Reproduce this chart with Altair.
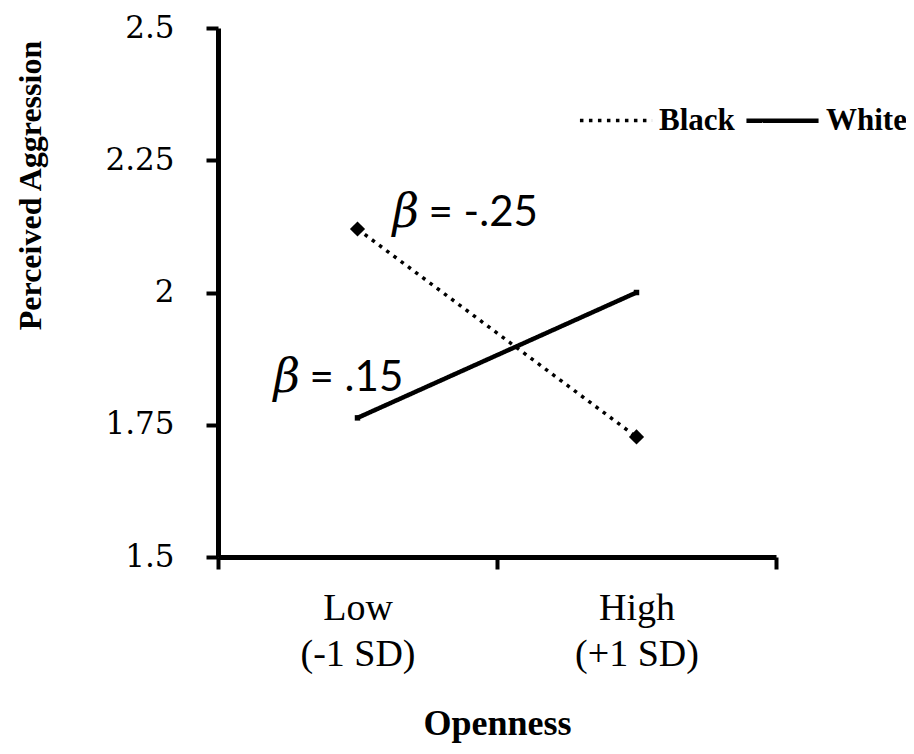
import altair as alt
import pandas as pd

categories = ["Low|(-1 SD)", "High|(+1 SD)"]
groups = ["Black", "White"]
black_values = [2.12, 1.727]
white_values = [1.763, 2.0]
y_ticks = [1.5, 1.75, 2.0, 2.25, 2.5]

ann_text = ["= -.25", "= .15"]
ann_y = [2.15, 1.838]

rows = []
for g, vals in zip(groups, [black_values, white_values]):
    for c, v in zip(categories, vals):
        rows.append({"Openness": c, "Group": g, "Aggression": v})
df = pd.DataFrame(rows)

ann = pd.DataFrame({"Openness": [categories[0], categories[0]], "Aggression": ann_y, "label": ann_text})

x = alt.X(
    "Openness:N",
    sort=categories,
    scale=alt.Scale(type="band", paddingInner=0, paddingOuter=0, domain=categories),
    axis=alt.Axis(
        title="Openness",
        tickBand="extent",
        labelExpr="split(datum.label, '|')",
        labelAngle=0,
        labelFont="Liberation Serif",
        labelFontSize=38,
        labelLineHeight=46,
        labelPadding=20,
        labelColor="black",
        titleFont="Liberation Serif",
        titleFontWeight="bold",
        titleFontSize=36,
        titleColor="black",
        titleY=177,
        titleBaseline="alphabetic",
    ),
)
y = alt.Y(
    "Aggression:Q",
    scale=alt.Scale(domain=[1.5, 2.5], nice=False, zero=False),
    axis=alt.Axis(
        title="Perceived Aggression",
        values=y_ticks,
        labelExpr="'' + datum.value",
        grid=False,
        labelFont="DejaVu Serif",
        labelFontSize=31,
        labelPadding=32,
        labelColor="black",
        titleFont="Liberation Serif",
        titleFontWeight="bold",
        titleFontSize=32,
        titleColor="black",
        titleX=-188,
        titleY=157,
        titleAngle=270,
        titleBaseline="middle",
    ),
)

legend = alt.Legend(
    title=None,
    orient="none",
    legendX=360,
    legendY=54,
    direction="horizontal",
    symbolType="stroke",
    symbolSize=5200,
    symbolStrokeColor="black",
    symbolStrokeWidth=4,
    labelFont="Liberation Serif",
    labelFontWeight="bold",
    labelFontSize=31,
    labelColor="black",
    columnPadding=2,
    labelOffset=5,
)

lines = alt.Chart(df).mark_line(color="black").encode(
    x=x,
    y=y,
    strokeDash=alt.StrokeDash(
        "Group:N", scale=alt.Scale(domain=groups, range=[[3.5, 5.5], [1, 0]]), legend=legend
    ),
    strokeWidth=alt.StrokeWidth(
        "Group:N", scale=alt.Scale(domain=groups, range=[3.5, 4.5]), legend=None
    ),
)

black_pts = alt.Chart(df[df["Group"] == "Black"]).mark_point(
    shape="diamond", filled=True, size=230, color="black", opacity=1
).encode(x=x, y=y)

white_pts = alt.Chart(df[df["Group"] == "White"]).mark_point(
    shape="square", filled=True, size=30, color="black", opacity=1
).encode(x=x, y=y)

beta1 = alt.Chart(ann.iloc[[0]]).mark_text(
    text="β", font="DejaVu Serif", fontStyle="italic", fontSize=46, align="left",
    baseline="middle", dx=35, color="black"
).encode(x=x, y=y)
txt1 = alt.Chart(ann.iloc[[0]]).mark_text(
    font="Lato", fontSize=42, align="left", baseline="middle", dx=71, color="black"
).encode(x=x, y=y, text="label:N")

beta2 = alt.Chart(ann.iloc[[1]]).mark_text(
    text="β", font="DejaVu Serif", fontStyle="italic", fontSize=46, align="left",
    baseline="middle", dx=-84, color="black"
).encode(x=x, y=y)
txt2 = alt.Chart(ann.iloc[[1]]).mark_text(
    font="Lato", fontSize=42, align="left", baseline="middle", dx=-48, color="black"
).encode(x=x, y=y, text="label:N")

chart = (
    alt.layer(lines, black_pts, white_pts, beta1, txt1, beta2, txt2)
    .properties(
        width=558,
        height=529,
        autosize=alt.AutoSizeParams(type="none"),
        padding={"left": 210, "top": 20, "right": 130, "bottom": 189},
    )
    .configure_view(stroke=None)
    .configure_axis(
        domainColor="black",
        domainWidth=5,
        tickColor="black",
        tickWidth=4,
        tickSize=12,
    )
)

chart.save("out.html", embed_options={"renderer": "svg", "actions": False})
